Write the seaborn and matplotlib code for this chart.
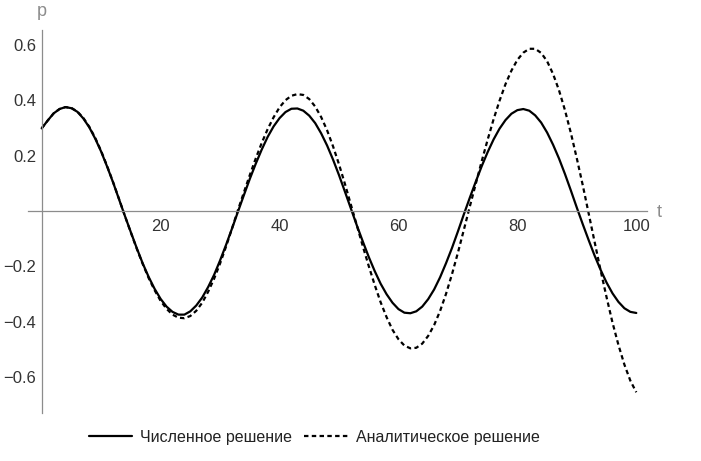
import matplotlib
matplotlib.use('Agg')
import matplotlib.pyplot as plt
import seaborn as sns
import pandas as pd
from matplotlib.ticker import MultipleLocator, FuncFormatter

# values, one per unit of t (0..100)
t = list(range(0, 101))
numeric = [0.299, 0.327, 0.353, 0.369, 0.376, 0.372, 0.359, 0.335, 0.303, 0.262,
           0.215, 0.161, 0.104, 0.043, -0.018, -0.077, -0.135, -0.190, -0.239, -0.282,
           -0.318, -0.346, -0.365, -0.375, -0.375, -0.363, -0.342, -0.313, -0.275, -0.231,
           -0.179, -0.123, -0.064, -0.003, 0.057, 0.116, 0.171, 0.222, 0.268, 0.306,
           0.336, 0.358, 0.370, 0.371, 0.363, 0.345, 0.318, 0.281, 0.237, 0.186,
           0.130, 0.070, 0.009, -0.052, -0.110, -0.166, -0.217, -0.263, -0.301, -0.332,
           -0.355, -0.368, -0.370, -0.363, -0.346, -0.319, -0.284, -0.240, -0.189, -0.134,
           -0.074, -0.012, 0.048, 0.106, 0.162, 0.213, 0.259, 0.298, 0.329, 0.352,
           0.365, 0.369, 0.363, 0.346, 0.320, 0.284, 0.240, 0.190, 0.134, 0.074,
           0.012, -0.048, -0.106, -0.162, -0.213, -0.259, -0.298, -0.329, -0.352, -0.365,
           -0.369]
analytic = [0.299, 0.327, 0.353, 0.369, 0.376, 0.373, 0.360, 0.337, 0.305, 0.265,
            0.217, 0.163, 0.105, 0.044, -0.018, -0.078, -0.137, -0.192, -0.243, -0.287,
            -0.325, -0.354, -0.375, -0.386, -0.388, -0.380, -0.361, -0.332, -0.292, -0.245,
            -0.190, -0.129, -0.064, 0.003, 0.067, 0.130, 0.190, 0.246, 0.296, 0.339,
            0.375, 0.401, 0.417, 0.423, 0.420, 0.405, 0.378, 0.340, 0.292, 0.234,
            0.169, 0.098, 0.023, -0.052, -0.127, -0.199, -0.267, -0.330, -0.384, -0.430,
            -0.464, -0.487, -0.497, -0.495, -0.480, -0.452, -0.413, -0.362, -0.300, -0.229,
            -0.151, -0.068, 0.016, 0.098, 0.180, 0.258, 0.332, 0.399, 0.459, 0.508,
            0.547, 0.573, 0.587, 0.587, 0.572, 0.542, 0.496, 0.437, 0.365, 0.282,
            0.190, 0.093, -0.010, -0.113, -0.215, -0.312, -0.404, -0.485, -0.556, -0.614,
            -0.656]
labels = ['Численное решение', 'Аналитическое решение']

sns.set_style('white')
plt.rcParams['font.family'] = ['Liberation Sans', 'DejaVu Sans']

df = pd.DataFrame({'t': t, 'numeric': numeric, 'analytic': analytic})

fig = plt.figure(figsize=(7.01, 4.61), dpi=100)
ax = fig.add_axes([28/701, 1-413/461, 619/701, 383/461])

sns.lineplot(data=df, x='t', y='numeric', ax=ax, color='black', lw=1.6, label=labels[0])
sns.lineplot(data=df, x='t', y='analytic', ax=ax, color='black', lw=1.6,
             linestyle=(0, (2.0, 1.5)), label=labels[1])

ax.set_xlim(-2.3, 101.8)
ax.set_ylim(-0.731, 0.655)

axis_col = '#8c8c8c'
for s in ['top', 'right']:
    ax.spines[s].set_visible(False)
ax.spines['left'].set_position(('data', 0))
ax.spines['bottom'].set_position(('data', 0))
for s in ['left', 'bottom']:
    ax.spines[s].set_color(axis_col)
    ax.spines[s].set_linewidth(0.9)

ax.xaxis.set_major_locator(MultipleLocator(20))
ax.xaxis.set_minor_locator(MultipleLocator(5))
ax.yaxis.set_major_locator(MultipleLocator(0.2))
ax.yaxis.set_minor_locator(MultipleLocator(0.05))
ax.xaxis.set_major_formatter(FuncFormatter(lambda v, p: '' if abs(v) < 1e-9 else f'{v:.0f}'))
ax.yaxis.set_major_formatter(FuncFormatter(
    lambda v, p: '' if abs(v) < 1e-9 else f'{v:.1f}'.replace('-', '\u2212')))

ax.tick_params(which='major', direction='in', length=4, width=0.8, color=axis_col,
               labelsize=12, labelcolor='#333333')
ax.tick_params(which='minor', direction='in', length=2.2, width=0.7, color=axis_col)
ax.tick_params(axis='x', pad=6)
ax.tick_params(axis='y', pad=4)
ax.set_xlabel('')
ax.set_ylabel('')

fig.text(657/701, 1-212/461, 't', color=axis_col, fontsize=13, ha='left', va='center')
fig.text(42/701, 1-12/461, 'p', color=axis_col, fontsize=13, ha='center', va='center')

handles, lbls = ax.get_legend_handles_labels()
ax.get_legend().remove()
fig.legend(handles, lbls, loc='center', bbox_to_anchor=(314/701, 1-437/461), ncol=2,
           frameon=False, fontsize=11.5, handlelength=2.75, handletextpad=0.45,
           columnspacing=0.8, labelcolor='#222222')

fig.savefig('out.png', dpi=100)
